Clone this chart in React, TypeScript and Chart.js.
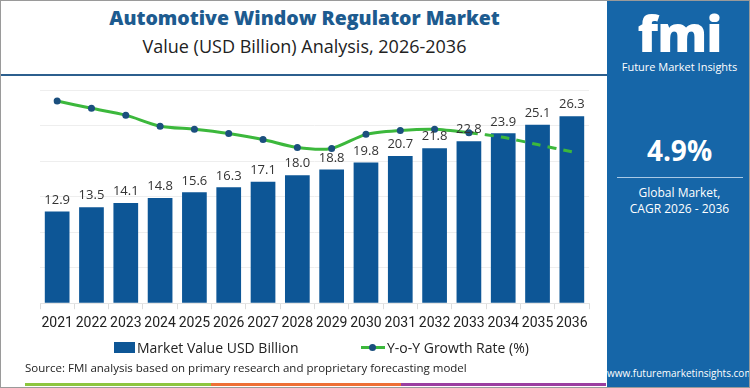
import React, { useEffect, useRef } from 'react';
import { Chart, registerables } from 'chart.js';

Chart.register(...registerables);

const years = ['2021', '2022', '2023', '2024', '2025', '2026', '2027', '2028', '2029', '2030', '2031', '2032', '2033', '2034', '2035', '2036'];
const marketValue = [12.9, 13.5, 14.1, 14.8, 15.6, 16.3, 17.1, 18.0, 18.8, 19.8, 20.7, 21.8, 22.8, 23.9, 25.1, 26.3];
const growthRate = [6.74, 6.57, 6.41, 6.15, 6.08, 5.98, 5.84, 5.65, 5.63, 5.96, 6.05, 6.08, 6.0, 5.89, 5.72, 5.55];
const DASH_FROM = 12;

const FONT = "'Open Sans', 'DejaVu Sans', sans-serif";
const TICK_FONT = "Roboto, 'Open Sans', sans-serif";

if (typeof document !== 'undefined') {
  document.body.style.margin = '0';
}

export default function App() {
  const ref = useRef<HTMLCanvasElement>(null);

  useEffect(() => {
    document.body.style.margin = '0';
    const labelPlugin = {
      id: 'barLabels',
      afterDatasetsDraw(chart: any) {
        const ctx = chart.ctx;
        const meta = chart.getDatasetMeta(1);
        ctx.save();
        ctx.font = `13px ${FONT}`;
        ctx.fillStyle = '#333333';
        ctx.textAlign = 'center';
        ctx.textBaseline = 'bottom';
        meta.data.forEach((bar: any, i: number) => {
          ctx.fillText(marketValue[i].toFixed(1), bar.x, bar.y - 5);
        });
        ctx.restore();
      },
    };
    const chart = new Chart(ref.current!, {
      type: 'bar',
      data: {
        labels: years,
        datasets: [
          {
            type: 'line',
            label: 'Y-o-Y Growth Rate (%)',
            data: growthRate,
            yAxisID: 'y1',
            borderColor: '#3cb83c',
            borderWidth: 3,
            tension: 0.25,
            pointRadius: (c: any) => (c.dataIndex > DASH_FROM ? 0 : 3.5),
            pointBackgroundColor: '#1b4f7e',
            pointBorderWidth: 0,
            segment: {
              borderDash: (c: any) => (c.p0DataIndex >= DASH_FROM ? [9, 7] : undefined),
            },
            order: 0,
          } as any,
          {
            type: 'bar',
            label: 'Market Value USD Billion',
            data: marketValue,
            yAxisID: 'y',
            backgroundColor: '#0d5696',
            categoryPercentage: 0.8,
            barPercentage: 0.9,
            order: 1,
          },
        ],
      },
      options: {
        animation: false,
        responsive: false,
        maintainAspectRatio: false,
        layout: { padding: { left: 40, right: 21, top: 13, bottom: 4 } },
        plugins: { legend: { display: false }, tooltip: { enabled: false } },
        scales: {
          x: {
            grid: { display: true, drawOnChartArea: false, drawTicks: true, tickLength: 6, color: '#dddddd', offset: true },
            border: { display: true, color: '#e4e4e4' },
            ticks: { color: '#222222', font: { size: 14, family: TICK_FONT }, padding: 6, maxRotation: 0, minRotation: 0, autoSkip: false },
          },
          y: {
            min: 0,
            max: 30,
            ticks: { display: false, stepSize: 5 },
            grid: { color: '#eeeeee', drawTicks: false },
            border: { display: false },
          },
          y1: {
            display: false,
            position: 'right',
            min: 2,
            max: 7,
          },
        },
      },
      plugins: [labelPlugin],
    });
    return () => chart.destroy();
  }, []);

  return (
    <div style={{ position: 'relative', width: 750, height: 388, overflow: 'hidden', background: '#ffffff', fontFamily: FONT, boxSizing: 'border-box', border: '1px solid #9a9a9a' }}>
      <div style={{ position: 'absolute', left: 0, top: 4, width: 607, textAlign: 'center', fontSize: 19.5, fontWeight: 800, color: '#1d5b8f', lineHeight: '26px' }}>
        Automotive Window Regulator Market
      </div>
      <div style={{ position: 'absolute', left: 0, top: 33, width: 607, textAlign: 'center', fontSize: 18, color: '#222222', lineHeight: '24px' }}>
        Value (USD Billion) Analysis, 2026-2036
      </div>
      <div style={{ position: 'absolute', left: 0, top: 73, width: 607, height: 2, background: '#2c5f8e' }} />
      <div style={{ position: 'absolute', left: -1, top: 76, width: 610, height: 265 }}>
        <canvas ref={ref} width={610} height={265} style={{ width: 610, height: 265, display: 'block' }} />
      </div>
      {/* legend */}
      <div style={{ position: 'absolute', left: 113, top: 341, width: 21, height: 11, background: '#0d5696' }} />
      <div style={{ position: 'absolute', left: 136, top: 337, fontSize: 14, color: '#222222', lineHeight: '20px', whiteSpace: 'nowrap' }}>
        Market Value USD Billion
      </div>
      <div style={{ position: 'absolute', left: 360, top: 345, width: 24, height: 3, background: '#3cb83c' }} />
      <div style={{ position: 'absolute', left: 368, top: 343, width: 7, height: 7, borderRadius: '50%', background: '#1b4f7e' }} />
      <div style={{ position: 'absolute', left: 386, top: 337, fontSize: 14, color: '#222222', lineHeight: '20px', whiteSpace: 'nowrap' }}>
        Y-o-Y Growth Rate (%)
      </div>
      {/* source */}
      <div style={{ position: 'absolute', left: 24, top: 359, fontSize: 11.5, color: '#222222', lineHeight: '16px', whiteSpace: 'nowrap' }}>
        Source: FMI analysis based on primary research and proprietary forecasting model
      </div>
      <div style={{ position: 'absolute', left: 24, top: 382, width: 186, height: 3, background: '#8cc63f' }} />
      <div style={{ position: 'absolute', left: 210, top: 382, width: 190, height: 3, background: '#ee7036' }} />
      <div style={{ position: 'absolute', left: 400, top: 382, width: 205, height: 3, background: '#9b3fa0' }} />
      {/* right panel */}
      <div style={{ position: 'absolute', left: 606, top: -1, width: 145, height: 390, background: '#1666a8', color: '#ffffff', textAlign: 'center' }}>
        <div style={{ position: 'absolute', left: 0, top: 8, width: 145, fontSize: 50, fontWeight: 800, lineHeight: '50px', letterSpacing: -1 }}>fmi</div>
        <div style={{ position: 'absolute', left: 0, top: 60, width: 145, fontSize: 11, lineHeight: '14px' }}>Future Market Insights</div>
        <div style={{ position: 'absolute', left: 0, top: 132, width: 145, fontSize: 28, fontWeight: 700, lineHeight: '36px' }}>4.9%</div>
        <div style={{ position: 'absolute', left: 10, top: 177, width: 126, height: 1, background: '#a9c9e6' }} />
        <div style={{ position: 'absolute', left: 0, top: 185, width: 145, fontSize: 12, lineHeight: '16px' }}>Global Market,</div>
        <div style={{ position: 'absolute', left: 0, top: 201, width: 145, fontSize: 12, lineHeight: '16px' }}>CAGR 2026 - 2036</div>
        <div style={{ position: 'absolute', left: 0, top: 366, width: 145, fontSize: 10, lineHeight: '14px' }}>www.futuremarketinsights.com</div>
      </div>
    </div>
  );
}
